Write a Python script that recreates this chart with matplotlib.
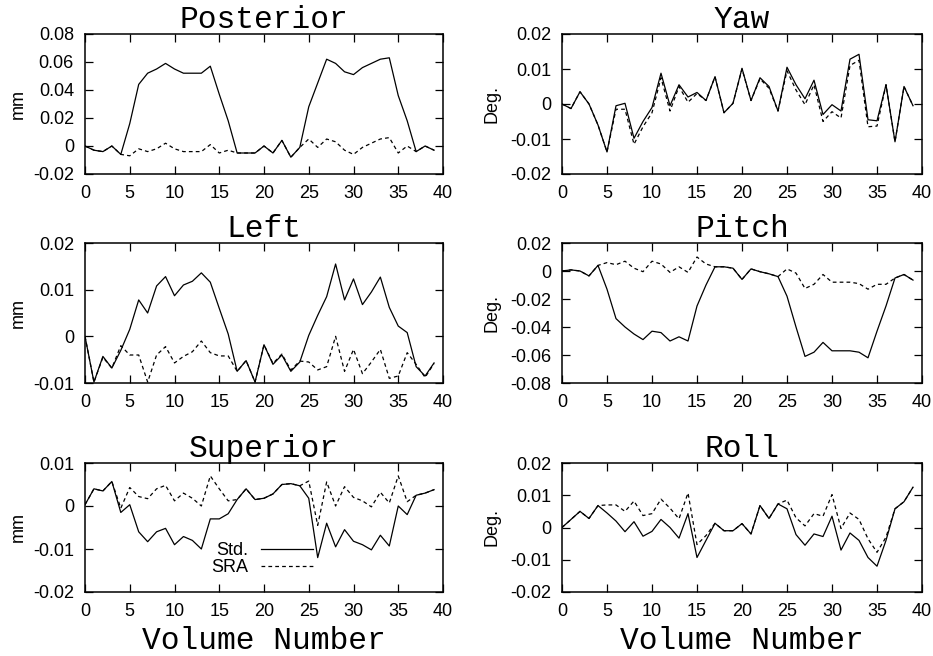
import numpy as np
import matplotlib.pyplot as plt
from matplotlib.ticker import MultipleLocator, FormatStrFormatter

# volume index 0..39
volumes = np.arange(40)

# translation estimates (mm), standard vs SRA
posterior_std = [0.000, -0.003, -0.004, 0.000, -0.006, 0.016, 0.044, 0.052, 0.055, 0.059,
                 0.055, 0.052, 0.052, 0.052, 0.057, 0.037, 0.018, -0.005, -0.005, -0.005,
                 0.000, -0.005, 0.004, -0.008, -0.001, 0.028, 0.045, 0.062, 0.059, 0.053,
                 0.051, 0.056, 0.059, 0.062, 0.063, 0.036, 0.018, -0.004, 0.000, -0.003]
posterior_sra = [0.000, -0.003, -0.004, 0.000, -0.006, -0.007, -0.002, -0.004, -0.002, 0.002,
                 -0.002, -0.004, -0.004, -0.004, 0.001, -0.005, -0.003, -0.005, -0.005, -0.005,
                 0.000, -0.005, 0.004, -0.008, -0.001, 0.005, -0.001, 0.005, 0.003, -0.003,
                 -0.006, -0.001, 0.002, 0.005, 0.006, -0.005, 0.000, -0.004, 0.000, -0.003]

left_std = [0.0000, -0.0098, -0.0043, -0.0068, -0.0030, 0.0015, 0.0078, 0.0050, 0.0108, 0.0128,
            0.0087, 0.0110, 0.0118, 0.0136, 0.0116, 0.0060, 0.0005, -0.0075, -0.0052, -0.0098,
            -0.0018, -0.0060, -0.0040, -0.0075, -0.0055, 0.0002, 0.0045, 0.0085, 0.0155, 0.0078,
            0.0123, 0.0068, 0.0095, 0.0127, 0.0062, 0.0022, 0.0008, -0.0065, -0.0085, -0.0057]
left_sra = [0.0000, -0.0098, -0.0045, -0.0068, -0.0020, -0.0040, -0.0040, -0.0098, -0.0040, -0.0022,
            -0.0057, -0.0043, -0.0033, -0.0010, -0.0035, -0.0042, -0.0042, -0.0075, -0.0052, -0.0098,
            -0.0018, -0.0058, -0.0038, -0.0072, -0.0053, -0.0055, -0.0072, -0.0065, 0.0000, -0.0075,
            -0.0028, -0.0080, -0.0055, -0.0028, -0.0090, -0.0085, -0.0035, -0.0060, -0.0088, -0.0058]

superior_std = [0.0003, 0.0040, 0.0035, 0.0057, -0.0015, 0.0003, -0.0060, -0.0083, -0.0060, -0.0052,
                -0.0090, -0.0071, -0.0080, -0.0100, -0.0030, -0.0030, -0.0018, 0.0015, 0.0040, 0.0015,
                0.0018, 0.0028, 0.0050, 0.0052, 0.0047, 0.0018, -0.0120, -0.0040, -0.0095, -0.0055,
                -0.0082, -0.0090, -0.0102, -0.0068, -0.0093, 0.0000, -0.0020, 0.0025, 0.0030, 0.0038]
superior_sra = [0.0003, 0.0040, 0.0035, 0.0057, -0.0005, 0.0043, 0.0022, 0.0017, 0.0040, 0.0048,
                0.0012, 0.0030, 0.0018, 0.0000, 0.0070, 0.0040, 0.0012, 0.0015, 0.0040, 0.0015,
                0.0018, 0.0028, 0.0050, 0.0052, 0.0047, 0.0058, -0.0045, 0.0056, 0.0000, 0.0045,
                0.0020, 0.0012, -0.0002, 0.0032, 0.0007, 0.0070, 0.0010, 0.0025, 0.0030, 0.0038]

# rotation estimates (degrees)
yaw_std = [0.0000, -0.0013, 0.0035, 0.0000, -0.0060, -0.0137, -0.0005, 0.0002, -0.0098, -0.0050,
           -0.0010, 0.0088, -0.0005, 0.0055, 0.0020, 0.0033, 0.0010, 0.0078, -0.0025, 0.0002,
           0.0102, 0.0010, 0.0075, 0.0050, -0.0020, 0.0105, 0.0055, 0.0015, 0.0068, -0.0030,
           -0.0002, -0.0020, 0.0128, 0.0142, -0.0045, -0.0048, 0.0055, -0.0108, 0.0050, -0.0005]
yaw_sra = [0.0000, -0.0013, 0.0035, 0.0000, -0.0060, -0.0137, -0.0015, -0.0015, -0.0115, -0.0065,
           -0.0025, 0.0075, -0.0020, 0.0050, 0.0005, 0.0030, 0.0010, 0.0078, -0.0025, 0.0002,
           0.0100, 0.0010, 0.0072, 0.0045, -0.0020, 0.0095, 0.0040, -0.0002, 0.0055, -0.0050,
           -0.0022, -0.0040, 0.0110, 0.0125, -0.0065, -0.0063, 0.0055, -0.0108, 0.0050, -0.0005]

pitch_std = [0.0000, 0.0008, 0.0000, -0.0035, 0.0040, -0.013, -0.034, -0.040, -0.045, -0.049,
             -0.043, -0.044, -0.050, -0.047, -0.050, -0.025, -0.010, 0.003, 0.003, 0.002,
             -0.006, 0.0015, -0.0005, -0.002, -0.004, -0.018, -0.040, -0.061, -0.058, -0.051,
             -0.057, -0.057, -0.057, -0.058, -0.062, -0.043, -0.025, -0.005, -0.0025, -0.0065]
pitch_sra = [0.0000, 0.0008, 0.0000, -0.0035, 0.0040, 0.006, 0.0045, 0.007, 0.002, -0.0005,
             0.007, 0.005, -0.001, 0.003, -0.001, 0.010, 0.005, 0.003, 0.003, 0.002,
             -0.006, 0.0015, -0.0005, -0.002, -0.004, 0.0015, -0.0015, -0.0125, -0.0095, -0.0025,
             -0.008, -0.008, -0.008, -0.009, -0.013, -0.0095, -0.0095, -0.005, -0.0025, -0.0065]

roll_std = [0.0000, 0.0025, 0.0050, 0.0028, 0.0068, 0.0045, 0.0020, -0.0013, 0.0018, -0.0027,
            -0.0012, 0.0025, 0.0000, -0.0033, 0.0043, -0.0093, -0.0040, 0.0013, -0.0010, -0.0010,
            0.0012, -0.0020, 0.0068, 0.0028, 0.0073, 0.0058, -0.0022, -0.0055, -0.0020, -0.0028,
            0.0035, -0.0070, -0.0017, -0.0040, -0.0093, -0.0120, -0.0040, 0.0058, 0.0080, 0.0125]
roll_sra = [0.0000, 0.0025, 0.0050, 0.0028, 0.0068, 0.0070, 0.0070, 0.0050, 0.0082, 0.0037,
            0.0043, 0.0088, 0.0060, 0.0027, 0.0107, -0.0053, -0.0025, 0.0013, -0.0010, -0.0010,
            0.0012, -0.0020, 0.0068, 0.0028, 0.0073, 0.0085, 0.0030, 0.0005, 0.0043, 0.0035,
            0.0102, -0.0003, 0.0045, 0.0025, -0.0035, -0.0077, -0.0030, 0.0058, 0.0080, 0.0125]

# (title, unit, std, sra, ymin, ymax, ystep)
panels = [
    ("Posterior", "mm", posterior_std, posterior_sra, -0.02, 0.08, 0.02),
    ("Yaw", "Deg.", yaw_std, yaw_sra, -0.02, 0.02, 0.01),
    ("Left", "mm", left_std, left_sra, -0.01, 0.02, 0.01),
    ("Pitch", "Deg.", pitch_std, pitch_sra, -0.08, 0.02, 0.02),
    ("Superior", "mm", superior_std, superior_sra, -0.02, 0.01, 0.01),
    ("Roll", "Deg.", roll_std, roll_sra, -0.02, 0.02, 0.01),
]

plt.rcParams['font.family'] = ['Liberation Sans', 'DejaVu Sans']
mono = 'Liberation Mono'

fig = plt.figure(figsize=(9.33, 6.56), dpi=100)
W, H = 933.0, 656.0
col_left = [85, 562]
col_width = [358, 360]
row_top = [34, 243, 463]
row_bottom = [174, 383, 592]

dash = (0, (3, 2.5))

for i, (title, unit, std, sra, ymin, ymax, ystep) in enumerate(panels):
    r, c = divmod(i, 2)
    rect = [col_left[c] / W, 1 - row_bottom[r] / H,
            col_width[c] / W, (row_bottom[r] - row_top[r]) / H]
    ax = fig.add_axes(rect)
    ax.plot(volumes, std, color='black', lw=0.9, label='Std.')
    ax.plot(volumes, sra, color='black', lw=0.9, linestyle=dash, label='SRA')
    ax.set_xlim(0, 40)
    ax.set_ylim(ymin, ymax)
    ax.xaxis.set_major_locator(MultipleLocator(5))
    ax.yaxis.set_major_locator(MultipleLocator(ystep))
    ax.yaxis.set_major_formatter(FormatStrFormatter('%g'))
    ax.tick_params(direction='in', top=True, right=True, length=5.5, width=0.9,
                   labelsize=13, pad=8)
    for sp in ax.spines.values():
        sp.set_linewidth(1.1)
    ax.set_title(title, family=mono, fontsize=22.5, pad=4.5)
    ax.set_ylabel(unit, fontsize=13)
    ax.yaxis.set_label_coords(-0.162 if c == 0 else -0.172, 0.5)
    if r == 2:
        ax.set_xlabel("Volume Number", family=mono, fontsize=22.5, labelpad=4)
    if title == "Superior":
        ax.legend(loc='center right', bbox_to_anchor=(0.637, 0.252), frameon=False,
                  markerfirst=False, fontsize=13, handlelength=2.9, handletextpad=0.7,
                  labelspacing=0.0, borderpad=0, borderaxespad=0)

fig.savefig("out.png", dpi=100)
